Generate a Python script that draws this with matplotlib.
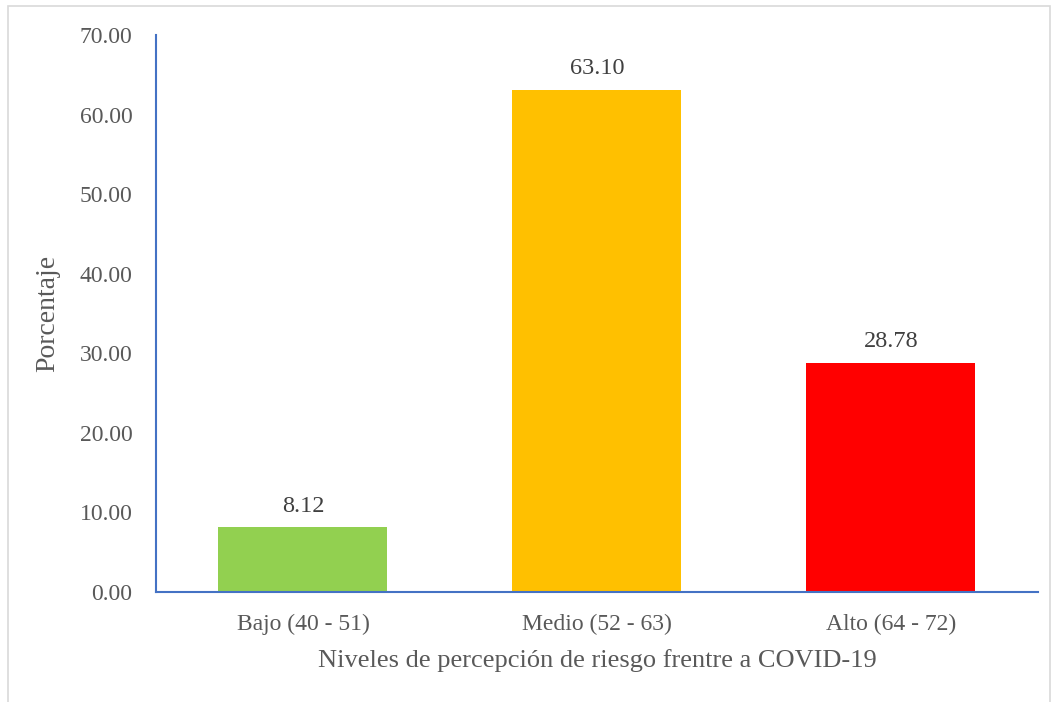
import matplotlib.pyplot as plt
from matplotlib.patches import Rectangle

categorias = ["Bajo (40 - 51)", "Medio (52 - 63)", "Alto (64 - 72)"]
porcentajes = [8.12, 63.10, 28.78]
colores = ["#92D050", "#FFC000", "#FF0000"]

plt.rcParams["font.family"] = ["Liberation Serif", "DejaVu Serif"]

fig = plt.figure(figsize=(10.58, 7.02), dpi=100)
ax = fig.add_axes([0.1474, 0.1567, 0.8336, 0.7933])

x = range(len(categorias))
barras = ax.bar(x, porcentajes, width=0.575, color=colores)

for b, v in zip(barras, porcentajes):
    ax.text(b.get_x() + b.get_width() / 2, v + 1.35, f"{v:.2f}",
            ha="center", va="bottom", fontsize=17.5, color="#404040")

ax.set_xlim(-0.5, 2.5)
ax.set_ylim(0, 70)
ax.set_yticks(range(0, 71, 10))
ax.set_yticklabels([f"{t:.2f}" for t in range(0, 71, 10)])
ax.set_xticks(list(x))
ax.set_xticklabels(categorias)
ax.tick_params(length=0, labelsize=17, labelcolor="#595959")
ax.tick_params(axis="x", pad=16)
ax.tick_params(axis="y", pad=17)

ax.set_ylabel("Porcentaje", fontsize=20, color="#595959", labelpad=14)
ax.set_xlabel("Niveles de percepción de riesgo frentre a COVID-19",
              fontsize=19, color="#595959", labelpad=10)

for s in ["top", "right"]:
    ax.spines[s].set_visible(False)
for s in ["left", "bottom"]:
    ax.spines[s].set_color("#4472C4")
    ax.spines[s].set_linewidth(1.5)

# marco gris alrededor del grafico (el borde inferior queda fuera de la imagen)
fig.patches.append(Rectangle((0.008, -0.01), 0.9844, 1.0015, transform=fig.transFigure,
                             fill=False, edgecolor="#D9D9D9", linewidth=1.2))

plt.savefig("out.png", dpi=100)
